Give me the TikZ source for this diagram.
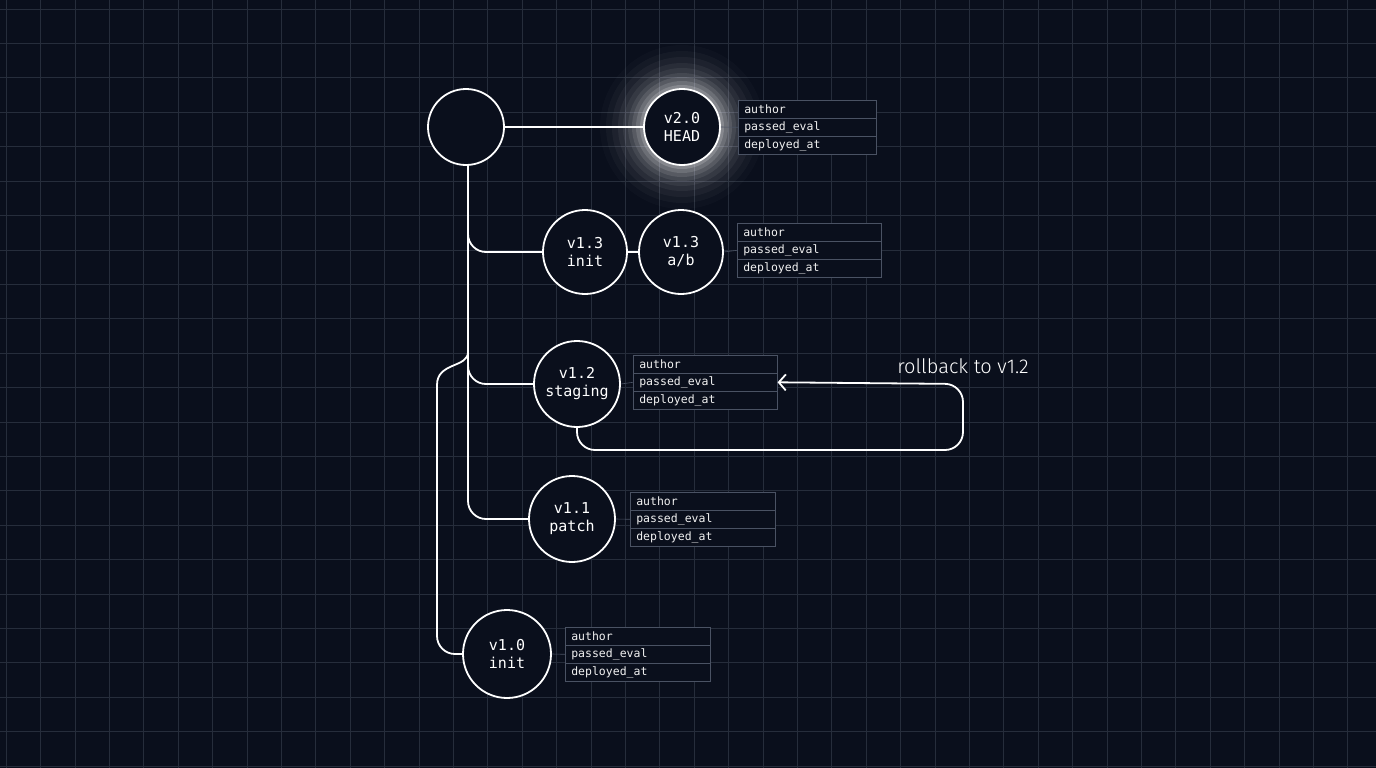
\documentclass[tikz,border=0pt]{standalone}
\usepackage{fontspec}
\setmainfont{Fira Sans Light}
\newfontfamily\monof{DejaVu Sans Mono}
\usetikzlibrary{arrows.meta}
\definecolor{bg}{HTML}{0A0F1C}
\definecolor{gridc}{HTML}{262D3B}
\definecolor{tabc}{HTML}{4A5263}
\tikzset{
  ver/.style={circle,draw=white,line width=1.8pt,fill=bg,text=white,align=center,font=\monof\fontsize{15}{17}\selectfont,inner sep=0pt},
  edge/.style={draw=white,line width=1.8pt,rounded corners=18pt},
  cell/.style={draw=tabc,line width=0.6pt,fill=bg,text=white!90!gray,anchor=north west,minimum height=18pt,inner xsep=6pt,inner ysep=0pt,align=left,font=\monof\fontsize{11.5}{13}\selectfont},
  stub/.style={draw=tabc,line width=0.6pt}
}
\newcommand{\metatable}[4]{% name, x, y, width
  \node[cell,text width=#4pt-12pt] (#1a) at (#2,#3) {author};
  \node[cell,text width=#4pt-12pt] (#1b) at (#2,#3+18) {passed\_eval};
  \node[cell,text width=#4pt-12pt] (#1c) at (#2,#3+36) {deployed\_at};
}
\begin{document}
\begin{tikzpicture}[x=1pt,y=-1pt]
\fill[bg] (0,0) rectangle (1376,768);
\useasboundingbox (0,0) rectangle (1376,768);
\foreach \i in {0,...,40} \draw[gridc,line width=0.6pt] (\i*34.4+6,0) -- (\i*34.4+6,768);
\foreach \j in {0,...,23} \draw[gridc,line width=0.6pt] (0,\j*34.4+9) -- (1376,\j*34.4+9);
% glow
\foreach \r/\o in {82/0.02,76/0.03,70/0.04,64/0.05,59/0.06,54/0.08,50/0.10,46/0.13,42/0.18}
  \fill[white,opacity=\o] (682,127) circle (\r);
% tables
\metatable{t20}{738}{100}{138}
\metatable{t13}{737}{223}{144}
\metatable{t12}{633}{355}{144}
\metatable{t11}{630}{492}{145}
\metatable{t10}{565}{627}{145}
% nodes
\node[ver,minimum size=76pt] (root) at (466,127) {};
\node[ver,minimum size=76pt] (v20) at (682,127) {v2.0\\[1pt]HEAD};
\node[ver,minimum size=84pt] (v13i) at (585,252) {v1.3\\[1pt]init};
\node[ver,minimum size=84pt] (v13ab) at (681,252) {v1.3\\[1pt]a/b};
\node[ver,minimum size=86pt] (v12) at (577,384) {v1.2\\[1pt]staging};
\node[ver,minimum size=86pt] (v11) at (572,519) {v1.1\\[1pt]patch};
\node[ver,minimum size=88pt] (v10) at (507,654) {v1.0\\[1pt]init};
% stubs
\draw[stub] (v20.east) -- (t20b.west);
\draw[stub] (v13ab.east) -- (t13b.west);
\draw[stub] (v12.east) -- (t12b.west);
\draw[stub] (v11.east) -- (t11b.west);
\draw[stub] (v10.east) -- (t10b.west);
% edges
\draw[edge] (root.east) -- (v20.west);
\draw[edge] (v13i.east) -- (v13ab.west);
\draw[edge] (root.south) ++(2,0) coordinate (tr) -- (tr |- v13i) -- (v13i.west);
\draw[edge] (tr) -- (tr |- v12) -- (v12.west);
\draw[edge] (tr) -- (tr |- v11) -- (v11.west);
\coordinate (br) at (468,352);
\coordinate (bl) at (437,385);
\draw[white,line width=1.8pt] (br) .. controls (468,368) and (437,362) .. (bl);
\draw[edge] (bl) -- (bl |- v10) -- (v10.west);
\coordinate (rb) at (963,450);
\draw[edge,-{Straight Barb[length=7pt,width=16pt]}] (v12.south) -- (v12.south |- rb) -- (rb) -- (963,384) -- (t12b.east);
\node[text=white,font=\fontsize{20}{22}\selectfont,anchor=center] (lbl) at (963,366) {rollback to v1.2};
\end{tikzpicture}
\end{document}
